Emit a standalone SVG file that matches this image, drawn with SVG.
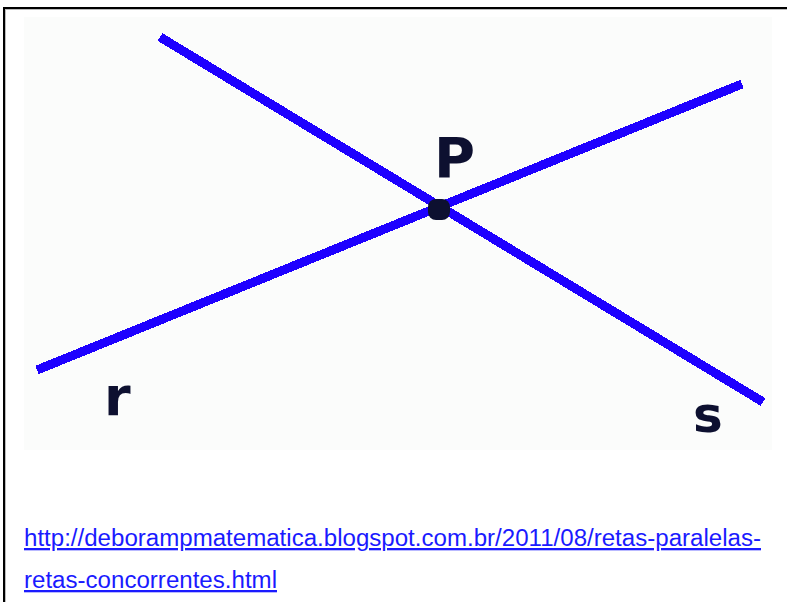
<svg xmlns="http://www.w3.org/2000/svg" width="787" height="602" viewBox="0 0 787 602">
<style>
.ln{stroke:#1e00ff;stroke-width:9;fill:none;shape-rendering:crispEdges}
.lbl{font-family:"DejaVu Sans","Liberation Sans",sans-serif;font-weight:bold;fill:#0d1030}
.lnk{font-family:"Liberation Sans",Arial,sans-serif;font-size:23px;fill:#1a1aff;text-decoration:underline}
</style>
<rect x="0" y="0" width="787" height="602" fill="#ffffff"/>
<g id="frame">
<rect x="3" y="7" width="784" height="2" fill="#000"/>
<rect x="5" y="9" width="782" height="1" fill="#bbb"/>
<rect x="3" y="7" width="2" height="595" fill="#000"/>
<rect x="5" y="9" width="1" height="593" fill="#bbb"/>
</g>
<g id="panel">
<rect x="24" y="17" width="748" height="433" fill="#fbfcfb"/>
</g>
<g id="connectors">
<line id="line-s" class="ln" x1="160" y1="37" x2="763" y2="402"/>
<line id="line-r" class="ln" x1="37" y1="370" x2="742" y2="84"/>
</g>
<g id="point-P">
<rect x="428" y="199" width="22" height="21" rx="8" fill="#0d1030"/>
<text class="lbl" x="434" y="177" font-size="56">P</text>
</g>
<g id="label-r">
<text class="lbl" x="104" y="415" font-size="54">r</text>
</g>
<g id="label-s">
<text class="lbl" x="693" y="432" font-size="50">s</text>
</g>
<g id="link">
<text class="lnk" x="24" y="546" textLength="737" lengthAdjust="spacingAndGlyphs">http://deborampmatematica.blogspot.com.br/2011/08/retas-paralelas-</text>
<text class="lnk" x="24" y="588" textLength="253" lengthAdjust="spacingAndGlyphs">retas-concorrentes.html</text>
</g>
</svg>
